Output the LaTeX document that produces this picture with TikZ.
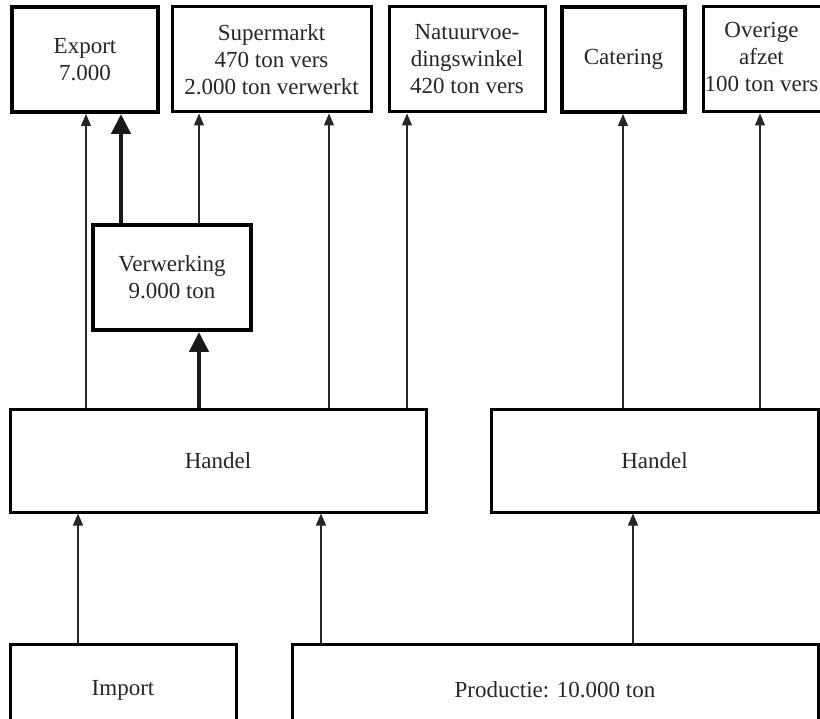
\documentclass[tikz,border=0pt]{standalone}
\usepackage{fontspec}
\setmainfont{Liberation Serif}
\usetikzlibrary{arrows.meta}

\begin{document}
\begin{tikzpicture}[x=1pt,y=-1pt]
		\tikzstyle{box}=[draw=black,line width=3pt,inner sep=0pt,align=center,text=black!85,font=\fontsize{23}{27}\selectfont]
		\tikzstyle{boldbox}=[box,line width=4pt]
		\tikzstyle{flow}=[draw=black!85,line width=1.2pt,-{Triangle[width=10pt,length=12pt]}]
		\tikzstyle{mainflow}=[draw=black!90,line width=4.5pt,-{Triangle[width=19pt,length=20pt]}]
		
		\useasboundingbox (0,0) rectangle (820,719);
		\clip (0,0) rectangle (820,719);
		
		% afzet
		\node[boldbox,minimum width=146pt,minimum height=105pt] (export) at (85,59.5) {Export\\7.000};
		\node[box,minimum width=199pt,minimum height=105pt] (super) at (271.5,59.5) {Supermarkt\\470 ton vers\\2.000 ton verwerkt};
		\node[box,minimum width=156pt,minimum height=105pt] (natuur) at (467,59.5) {Natuurvoe-\\dingswinkel\\420 ton vers};
		\node[boldbox,minimum width=123pt,minimum height=105pt] (cater) at (623.5,59.5) {Catering};
		\node[box,minimum width=140pt,minimum height=105pt,anchor=west] (overig) at (702,59.5) {\begin{tabular}{@{}c@{}}Overige\\afzet\\100 ton vers\end{tabular}\hspace*{24pt}};
		
		\node[boldbox,minimum width=158pt,minimum height=105pt] (verw) at (172,277.5) {Verwerking\\9.000 ton};
		
		% handel
		\node[box,minimum width=416pt,minimum height=102pt] (handel1) at (218,461) {Handel};
		\node[box,minimum width=327pt,minimum height=102pt] (handel2) at (654.5,461) {Handel};
		
		% aanbod
		\node[box,minimum width=226pt,minimum height=92pt] (import) at (123,690) {Import};
		\node[box,minimum width=526pt,minimum height=92pt] (prod) at (555,690) {Productie: 10.000 ton};
		
		\draw[flow] (import.north -| 78,0) -- (handel1.south -| 78,0);
		\draw[flow] (prod.north -| 321,0) -- (handel1.south -| 321,0);
		\draw[flow] (prod.north -| 633,0) -- (handel2.south -| 633,0);
		
		\draw[flow] (handel1.north -| 86,0) -- (export.south -| 86,0);
		\draw[flow] (handel1.north -| 329,0) -- (super.south -| 329,0);
		\draw[flow] (handel1.north -| 407,0) -- (natuur.south -| 407,0);
		\draw[flow] (verw.north -| 199,0) -- (super.south -| 199,0);
		\draw[mainflow] (handel1.north -| 199,0) -- (verw.south -| 199,0);
		\draw[mainflow] (verw.north -| 121,0) -- (export.south -| 121,0);
		
		\draw[flow] (handel2.north -| 623,0) -- (cater.south -| 623,0);
		\draw[flow] (handel2.north -| 760,0) -- (overig.south -| 760,0);
	\end{tikzpicture}
\end{document}
